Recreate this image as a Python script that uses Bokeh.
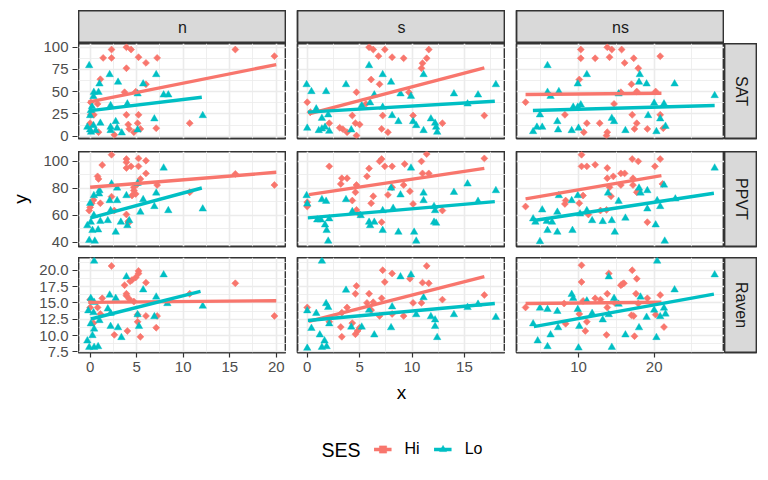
import numpy as np
from bokeh.plotting import figure
from bokeh.layouts import row, column, Spacer
from bokeh.models import (Range1d, FixedTicker, PrintfTickFormatter, Legend,
                          LegendItem, Label)
from bokeh.embed import file_html
from bokeh.resources import INLINE
from bokeh.core.properties import value

# ---------------- data ----------------
col_vars = ["n", "s", "ns"]
row_vars = ["SAT", "PPVT", "Raven"]
groups = ["Hi", "Lo"]

x_ticks = {"n": [0, 5, 10, 15, 20], "s": [0, 5, 10, 15], "ns": [10, 20]}
x_minor = {"n": [2.5, 7.5, 12.5, 17.5], "s": [2.5, 7.5, 12.5, 17.5], "ns": [5, 15, 25]}
y_ticks = {"SAT": [0, 25, 50, 75, 100], "PPVT": [40, 60, 80, 100],
           "Raven": [7.5, 10, 12.5, 15, 17.5, 20]}
y_minor = {"SAT": [12.5, 37.5, 62.5, 87.5], "PPVT": [50, 70, 90],
           "Raven": [8.75, 11.25, 13.75, 16.25, 18.75, 21.25]}
x_limits = {"n": [-1.25, 21.1], "s": [-0.93, 18.92], "ns": [1.8, 29.3]}
y_limits = {"SAT": [-2.6, 104.2], "PPVT": [37.0, 107.3], "Raven": [7.4, 21.95]}

# --- SAT vs n
SAT_n_hi_x = [2.3, 3.9, 4.4, 1.4, 2.3, 5.2, 6.0, 7.2, 3.9, 15.6, 19.8, 1.1, 6.0, 3.7, 4.9, 0.07, 0.8, 0.07, 0.4, 3.9, 5.2, 0.0, 4.1, 5.1, 4.2, 5.4, 7.1, 10.7, 0.9, 2.6, 4.7]
SAT_n_hi_y = [97.4, 100, 97.4, 88, 88, 88.8, 82.4, 88, 76.4, 97.4, 90, 64, 58.4, 49.4, 50, 38, 36.3, 24, 24, 24, 24, 14.6, 13.1, 14.6, 8.2, 8.2, 9, 14.6, 4.5, 1.5, 4.5]
SAT_n_lo_x = [-0.1, 2.1, 3.0, 7.1, 1.0, 0.9, 0.4, 0.36, 5.7, 7.9, 8.4, 5.1, 0.2, 2.2, 4.0, 0.07, 0.0, 6.9, 12.1, 1.1, 2.75, -0.3, 0.0, 0.36, 2.2, 2.2, 2.9, 3.4, 0.1, 0.6, 5.1]
SAT_n_lo_y = [79.4, 69.3, 60.7, 69.3, 58.8, 49.4, 49.4, 44.6, 58.8, 46.4, 46.4, 47.6, 33.3, 34.5, 36.3, 28.8, 23.2, 19.5, 23.2, 14.6, 16.5, 10.1, 7.1, 12, 10.1, 6.4, 9, 3.7, 4.5, 6.4, 7.1]
SAT_n_fit_hi_x = [-0.2, 20.0]
SAT_n_fit_hi_y = [38.2, 80.5]
SAT_n_fit_lo_x = [0.07, 12.0]
SAT_n_fit_lo_y = [28.8, 43.8]

# --- SAT vs s
SAT_s_hi_x = [5.9, 6.3, 7.4, 6.8, 8.1, 9.2, 11.6, 11.4, 11.0, 10.9, 6.1, 6.9, 4.7, 9.7, 0.0, 0.3, 5.6, 4.3, 7.2, 10.1, 16.9, 2.1, 4.6, 5.0, 3.1, 3.4, 3.8, 4.7, 7.1, 7.7, 12.9]
SAT_s_hi_y = [100, 97.4, 97.4, 90, 88.8, 87.6, 97.4, 87.6, 82, 76.4, 63.7, 58.4, 49.4, 49.4, 38.2, 27, 36.3, 23.2, 23.2, 23.2, 23.2, 14.6, 14.6, 13.1, 9.4, 7.9, 4.5, 0.7, 8.2, 4.5, 14.6]
SAT_s_lo_x = [-0.06, 0.4, 1.8, 3.7, 5.9, 7.2, 8.0, 11.1, 8.9, 9.9, 14.0, 16.3, 18.0, 6.4, 5.2, 6.0, 7.2, 0.86, 2.0, 1.4, 8.1, 8.7, 10.1, 10.4, 11.8, 12.2, 12.3, 12.4, 11.1, 0.0, 1.1, 1.4, 1.7, 2.1, 4.2, 15.3]
SAT_s_lo_y = [58, 50.2, 50.2, 58, 79.4, 69.3, 60.7, 69.3, 47.6, 44.9, 47.6, 46.4, 58, 46.4, 34.5, 37.5, 32.6, 30.7, 24, 20.2, 23.2, 16.5, 16.5, 12, 19.5, 14.6, 10.1, 4.5, 6.4, 9, 6.4, 8.2, 10.1, 5.6, 7.1, 36.3]
SAT_s_fit_hi_x = [0.16, 16.9]
SAT_s_fit_hi_y = [25.1, 76.8]
SAT_s_fit_lo_x = [0.06, 17.9]
SAT_s_fit_lo_y = [27.0, 39.3]

# --- SAT vs ns
SAT_ns_hi_x = [13.8, 14.4, 15.7, 10.3, 10.3, 12.2, 14.1, 17.3, 20.8, 16.1, 17.9, 10.1, 17.0, 15.6, 17.7, 20.2, 3.0, 14.7, 8.2, 17.1, 20.8, 11.1, 12.8, 17.7, 10.7, 13.8, 13.7, 17.4, 19.1, 21.2]
SAT_ns_hi_y = [100, 97.4, 97.4, 97.4, 87.6, 87.6, 88.8, 87.6, 89.9, 82.4, 76.4, 63.7, 58.4, 49.4, 50.2, 50.2, 38.2, 36.3, 24, 24, 24, 14.6, 14.6, 14.6, 4.5, 4.5, 0.7, 8.2, 8.2, 9]
SAT_ns_lo_x = [5.9, 11.1, 18.1, 9.9, 18.0, 19.0, 22.7, 5.9, 6.3, 7.4, 15.3, 28.0, 9.3, 10.3, 9.9, 20.0, 21.3, 4.9, 7.2, 14.4, 14.7, 19.2, 20.8, 4.0, 4.5, 5.2, 7.3, 9.1, 10.0, 16.2, 20.3, 21.5]
SAT_ns_lo_y = [79.4, 69.3, 69.3, 58.8, 60.7, 58.8, 58.8, 49.4, 44.9, 50.2, 47.6, 45.7, 32.6, 35.2, 32.6, 37.1, 36.3, 24, 16.5, 20.2, 16.5, 23.2, 19.5, 5.2, 10.1, 10.1, 7.1, 6.4, 9, 6.4, 5.2, 11.2]
SAT_ns_fit_hi_x = [3.0, 20.96]
SAT_ns_fit_hi_y = [46.8, 48.3]
SAT_ns_fit_lo_x = [3.97, 28.0]
SAT_ns_fit_lo_y = [28.8, 34.5]

# --- PPVT vs n
PPVT_n_hi_x = [2.3, 3.9, 3.9, 4.4, 3.9, 5.2, 6.0, 5.2, 1.3, 0.8, 0.9, 6.0, 5.4, 7.2, 15.6, 19.8, 4.7, 4.7, 4.9, 4.5, 2.3, 0.36, 0.18, 0.0, -0.1, 1.1, 2.6, 3.9, 4.1, 4.1, 10.7, 5.1]
PPVT_n_hi_y = [104.9, 101.7, 99.3, 96.3, 95.1, 102.2, 100.5, 96.3, 97.3, 88.9, 87, 91.1, 87, 82.5, 90.7, 82.5, 80.8, 78.4, 75.9, 74.7, 73.9, 71.5, 69, 66, 63.6, 69, 63.6, 60.7, 55.7, 54.3, 77.1, 83.3]
PPVT_n_lo_x = [7.9, 2.3, 2.9, 5.1, 0.4, 1.0, 0.96, 3.9, 7.1, 2.1, 2.9, 5.7, 0.0, 6.9, 8.4, 2.2, 0.4, 5.4, 12.1, -0.3, 0.07, 1.1, 1.9, 3.3, 4.2, 4.0, 0.25, 0.86, 2.75, -0.1, 0.5]
PPVT_n_lo_y = [95.1, 83.3, 80.3, 83.8, 74.7, 78.4, 75.9, 74.7, 76.6, 71, 71, 71.7, 69, 66.6, 63.6, 63.6, 60, 62.4, 64.8, 52.5, 55, 55.7, 56.2, 55, 56.2, 52.5, 48.9, 49.3, 47.6, 41.5, 41]
PPVT_n_fit_hi_x = [0.0, 20.0]
PPVT_n_fit_hi_y = [80.8, 91.9]
PPVT_n_fit_lo_x = [0.07, 12.0]
PPVT_n_fit_lo_y = [58.2, 80.3]

# --- PPVT vs s
PPVT_s_hi_x = [11.4, 7.1, 6.9, 16.9, 10.9, 9.3, 7.4, 8.1, 2.1, 5.9, 11.0, 11.6, 5.7, 3.3, 3.8, 3.2, 4.7, 9.2, 8.1, 4.6, 9.8, 6.3, 7.7, 4.3, 6.1, 0.0, 0.0, 10.1, 4.7, 5.0, 12.9, 7.1]
PPVT_s_hi_y = [105.4, 101.7, 100, 102.2, 100, 98, 96.3, 96.3, 96.3, 94.8, 91.1, 91.1, 88.9, 87.5, 87.5, 83.3, 82.5, 82.5, 80.8, 77.1, 77.9, 74.2, 75.2, 71, 69, 69.8, 66.6, 68.5, 64.1, 60.7, 63.6, 55]
PPVT_s_lo_x = [9.9, 15.3, 18.0, 14.0, 11.1, 8.9, 8.0, -0.06, 1.4, 1.8, 3.7, 11.1, 0.0, 12.1, 12.2, 8.2, 7.2, 4.3, 5.1, 16.3, 0.95, 1.3, 2.1, 1.7, 5.9, 6.4, 6.0, 12.1, 12.3, 1.85, 7.2, 8.7, 10.2, 2.0, 10.4]
PPVT_s_lo_y = [95.1, 83.3, 78.4, 77.1, 76.6, 75.2, 80.3, 74.7, 71.7, 70.5, 71.7, 71, 68.5, 66.6, 63.6, 65.3, 63.6, 62.9, 59.9, 70.5, 56.7, 56.7, 57.5, 53, 55, 55, 52.5, 55, 54.3, 48.9, 48.9, 47.6, 47.6, 41, 41]
PPVT_s_fit_hi_x = [0.16, 16.9]
PPVT_s_fit_hi_y = [75.4, 94.8]
PPVT_s_fit_lo_x = [0.06, 17.9]
PPVT_s_fit_lo_y = [58.2, 70.2]

# --- PPVT vs ns
PPVT_ns_hi_x = [10.4, 17.1, 17.9, 20.8, 10.4, 11.1, 12.2, 13.8, 20.1, 14.6, 13.8, 15.6, 16.1, 17.2, 15.6, 17.2, 21.1, 14.1, 17.7, 17.9, 10.6, 14.3, 8.3, 8.2, 10.1, 3.0, 12.9, 13.7, 11.3, 19.1]
PPVT_ns_hi_y = [104.9, 101.7, 100, 101.7, 96.3, 96.3, 97.5, 95.1, 96.3, 88.9, 87.5, 91.1, 91.1, 87.5, 82.5, 82.5, 83.3, 80.8, 77.1, 78.4, 74.7, 74.2, 71, 68.5, 69, 66.6, 63.6, 64.1, 60.7, 55]
PPVT_ns_lo_x = [28.0, 18.0, 13.9, 19.1, 18.2, 21.3, 9.9, 9.1, 7.4, 15.3, 20.4, 22.8, 5.2, 7.2, 11.1, 10.2, 19.1, 20.8, 4.0, 4.3, 5.8, 6.5, 11.8, 13.2, 14.4, 16.2, 20.2, 5.9, 7.2, 9.2, 14.8, 4.9, 21.4]
PPVT_ns_lo_y = [95.1, 80.3, 76.6, 78.4, 76.6, 82.5, 74.7, 71, 74.7, 70.5, 71, 72.2, 64.1, 62.4, 63.6, 61.1, 64.8, 66.6, 57.5, 55, 55.7, 55, 56.2, 55.5, 56.2, 58, 53, 48.9, 47.6, 48.9, 47.6, 40.7, 41]
PPVT_ns_fit_hi_x = [3.0, 20.96]
PPVT_ns_fit_hi_y = [72.2, 89.4]
PPVT_ns_fit_lo_x = [4.1, 27.9]
PPVT_ns_fit_lo_y = [56.2, 76.4]

# --- Raven vs n
Raven_n_hi_x = [2.3, 5.2, 5.2, 4.9, 4.5, 4.3, 6.0, 3.7, 15.6, 3.9, 3.9, 4.2, 1.3, 0.0, 4.7, 0.0, 0.8, 1.1, 5.1, 6.0, 7.2, 19.8, 5.1, 0.36, 7.1, 4.0, 2.6, 5.4, 10.7]
Raven_n_hi_y = [20.66, 19.9, 19.5, 18.9, 18.5, 18.3, 18.1, 17.7, 18.0, 16.4, 16.1, 15.6, 15.7, 15.5, 15.2, 14.3, 14.3, 13.3, 13.2, 13.0, 13.0, 13.0, 12.1, 11.9, 11.2, 10.7, 10.1, 9.8, 16.4]
Raven_n_lo_x = [0.43, 3.9, 7.9, 5.7, 2.1, 2.75, 7.1, 8.3, 12.1, 0.07, 0.43, -0.2, 0.36, 2.2, 1.9, 5.1, 6.9, 1.0, 0.07, 2.2, 3.0, 5.25, 0.43, 0.25, -0.3, 3.36, -0.1, 0.43, 0.86]
Raven_n_lo_y = [21.4, 19, 19.3, 17, 16.2, 15.7, 15.9, 14.9, 14.5, 15.7, 15.1, 13.8, 13.5, 13.4, 14.1, 13.2, 12.9, 12.3, 11.8, 11.4, 11.2, 11.4, 11.0, 10, 9.2, 9.7, 8.2, 8.2, 8.3]
Raven_n_fit_hi_x = [-0.2, 20.0]
Raven_n_fit_hi_y = [15.07, 15.33]
Raven_n_fit_lo_x = [0.07, 11.86]
Raven_n_fit_lo_y = [12.53, 16.75]

# --- Raven vs s
Raven_s_hi_x = [11.4, 7.2, 8.1, 9.8, 7.4, 11.0, 11.6, 4.7, 4.6, 5.9, 16.9, 7.1, 12.9, 5.7, 6.3, 10.1, 10.9, 0.0, 3.8, 3.3, 6.1, 6.9, 8.1, 9.2, 2.1, 4.3, 3.2, 5.0, 4.8, 4.6, 3.3]
Raven_s_hi_y = [20.66, 20, 19.5, 18.7, 18.2, 18.1, 18.0, 17.6, 16.4, 16.4, 16.2, 15.7, 15.5, 15, 15.1, 15, 15, 14.3, 14.3, 13.5, 13.9, 13.0, 13.3, 13.0, 12.1, 11.9, 11.3, 11.2, 10.7, 10.2, 9.8]
Raven_s_lo_x = [1.4, 9.9, 8.9, 3.7, 11.1, 1.8, 2.0, 8.1, 15.3, 16.3, 0.0, 0.86, 5.9, 10.4, 11.8, 12.2, 14.0, 18.0, 2.1, 4.2, 5.2, 0.4, 8.0, 12.2, 1.2, 6.4, 12.4, 1.65, 1.85, 1.4, 0.0]
Raven_s_lo_y = [21.4, 19.3, 19.0, 16.95, 15.8, 14.9, 14.3, 14.4, 14.3, 14.8, 13.8, 13.4, 13.9, 13.2, 12.9, 12.4, 13.2, 12.8, 11.8, 11.3, 11.3, 11.1, 11.2, 11.4, 10.1, 10.1, 9.7, 9.2, 8.3, 8.2, 8.06]
Raven_s_fit_hi_x = [0.16, 16.9]
Raven_s_fit_hi_y = [12.18, 19.03]
Raven_s_fit_lo_x = [0.06, 17.9]
Raven_s_fit_lo_y = [12.3, 14.9]

# --- Raven vs ns
Raven_ns_hi_x = [10.4, 14.0, 17.1, 10.4, 17.7, 15.6, 16.0, 15.8, 13.8, 17.6, 20.8, 12.2, 12.9, 10.6, 8.1, 14.8, 17.9, 19.1, 3.0, 13.8, 10.1, 8.3, 11.1, 17.0, 17.3, 20.2, 21.3, 10.9, 13.7, 17.4]
Raven_ns_hi_y = [20.76, 19.5, 20, 18.2, 18.7, 17.7, 18, 17.9, 16.4, 16.4, 16.2, 15.7, 15.5, 15.3, 14.9, 15, 14.9, 15.7, 14.3, 14.3, 13.3, 11.8, 12.1, 13.1, 13, 13.2, 11.3, 10.7, 10.1, 9.9]
Raven_ns_lo_x = [20.4, 28.0, 14.0, 22.7, 9.1, 9.3, 14.7, 18.2, 15.3, 11.1, 4.9, 5.9, 7.2, 9.9, 11.8, 20.0, 21.3, 21.5, 20.8, 19.0, 13.2, 14.0, 4.0, 7.3, 10.1, 18.0, 6.3, 16.2, 20.3, 4.6, 5.9, 10.0, 14.4]
Raven_ns_lo_y = [21.4, 19.3, 19, 17, 16.3, 15.7, 15.7, 15.9, 14.8, 15.3, 14.2, 14, 13.7, 14, 13.4, 13.9, 14.2, 13.3, 12.9, 12.8, 12.4, 13.2, 11.8, 11.2, 11.4, 11.2, 10.1, 10.1, 9.7, 9.2, 8.3, 8.1, 8.2]
Raven_ns_fit_hi_x = [3.0, 20.96]
Raven_ns_fit_hi_y = [14.9, 15.1]
Raven_ns_fit_lo_x = [4.1, 27.9]
Raven_ns_fit_lo_y = [11.36, 16.34]

# ---------------- assemble lookup tables ----------------
G = globals()
points = {}
fits = {}
for rv in row_vars:
    for cv in col_vars:
        key = f"{rv}_{cv}"
        points[(rv, cv)] = {
            "Hi": (G[key + "_hi_x"], G[key + "_hi_y"]),
            "Lo": (G[key + "_lo_x"], G[key + "_lo_y"]),
        }
        fits[(rv, cv)] = {
            "Hi": (G[key + "_fit_hi_x"], G[key + "_fit_hi_y"]),
            "Lo": (G[key + "_fit_lo_x"], G[key + "_fit_lo_y"]),
        }

# ---------------- styling / layout constants ----------------
colors = {"Hi": "#F8766D", "Lo": "#00BFC4"}
FONT = "Liberation Sans"
PANEL_W, PANEL_H = 208, 95
AXIS_W, GAP_W, STRIP_W, STRIP_H = 78, 11, 33, 33
TOP_PAD = 10
row_gap = [13, 11, 64]
BORDER = "#333333"
FIT_W = 3.4


def draw_marker(p, g, xs, ys):
    if g == "Hi":
        return p.scatter(xs, ys, marker="square", angle=np.pi / 4, size=4.9,
                         fill_color=colors[g], line_color=colors[g], line_width=0.6)
    return p.scatter(xs, ys, marker="triangle", size=7.5,
                     fill_color=colors[g], line_color=colors[g], line_width=0.4)


def style_axis(ax):
    ax.axis_line_color = None
    ax.major_tick_line_color = BORDER
    ax.major_tick_line_width = 1.2
    ax.major_tick_out = 5
    ax.major_tick_in = 0
    ax.minor_tick_line_color = None
    ax.major_label_text_font = FONT
    ax.major_label_text_font_size = "15px"
    ax.major_label_text_color = "#4D4D4D"
    ax.major_label_standoff = 4
    ax.axis_label_text_font = FONT
    ax.axis_label_text_font_size = "19px"
    ax.axis_label_text_font_style = "normal"
    ax.axis_label_text_color = "#000000"


y_ranges = {rv: Range1d(*y_limits[rv]) for rv in row_vars}
x_ranges = {cv: Range1d(*x_limits[cv]) for cv in col_vars}


def make_yaxis_fig(ri):
    rv = row_vars[ri]
    top = STRIP_H if ri == 0 else 0
    mb = row_gap[ri]
    p = figure(width=AXIS_W, height=top + PANEL_H + mb,
               x_range=Range1d(0, 1), y_range=y_ranges[rv],
               output_backend="svg", toolbar_location=None, title=None,
               x_axis_location=None, y_axis_location="left",
               min_border_left=AXIS_W - 1, min_border_right=0,
               min_border_top=top, min_border_bottom=mb)
    p.grid.visible = False
    p.outline_line_color = None
    p.background_fill_color = "white"
    p.border_fill_color = "white"
    ax = p.yaxis[0]
    ax.ticker = FixedTicker(ticks=y_ticks[rv])
    if rv == "Raven":
        ax.formatter = PrintfTickFormatter(format="%.1f")
    style_axis(ax)
    if ri == 1:
        ax.axis_label = "y"
        ax.axis_label_standoff = 9
    return p


def make_panel(ri, ci):
    rv, cv = row_vars[ri], col_vars[ci]
    ml = 0 if ci == 0 else GAP_W
    mb = row_gap[ri]
    p = figure(width=ml + PANEL_W, height=PANEL_H + mb,
               x_range=x_ranges[cv], y_range=y_ranges[rv],
               output_backend="svg", toolbar_location=None, title=None,
               x_axis_location="below" if ri == 2 else None,
               y_axis_location=None,
               min_border_left=ml, min_border_right=0,
               min_border_top=0, min_border_bottom=mb)
    p.background_fill_color = "white"
    p.border_fill_color = "white"
    p.outline_line_color = BORDER
    p.outline_line_width = 1.8
    for grid, tk, mn in ((p.xgrid[0], x_ticks[cv], x_minor[cv]),
                         (p.ygrid[0], y_ticks[rv], y_minor[rv])):
        grid.ticker = FixedTicker(ticks=tk, minor_ticks=mn)
        grid.grid_line_color = "#EBEBEB"
        grid.grid_line_width = 1.6
        grid.minor_grid_line_color = "#EBEBEB"
        grid.minor_grid_line_width = 0.8
    if ri == 2:
        ax = p.xaxis[0]
        ax.ticker = FixedTicker(ticks=x_ticks[cv])
        style_axis(ax)
        if ci == 1:
            ax.axis_label = "x"
            ax.axis_label_standoff = 7
    for g in groups:
        xs, ys = points[(rv, cv)][g]
        draw_marker(p, g, xs, ys)
    for g in groups:
        fx, fy = fits[(rv, cv)][g]
        p.line(fx, fy, line_color=colors[g], line_width=FIT_W)
    return p


def make_strip(label, width, height, ml, mb, vertical=False):
    s = figure(width=width, height=height, x_range=Range1d(0, 1), y_range=Range1d(0, 1),
               output_backend="svg", toolbar_location=None, title=None,
               x_axis_location=None, y_axis_location=None,
               min_border_left=ml, min_border_right=0, min_border_top=0,
               min_border_bottom=mb)
    s.grid.visible = False
    s.background_fill_color = "#D9D9D9"
    s.border_fill_color = "white"
    s.outline_line_color = BORDER
    s.outline_line_width = 1.8
    s.text(x=[0.5], y=[0.5], text=[label], angle=-np.pi / 2 if vertical else 0,
           text_align="center", text_baseline="middle",
           text_font=value(FONT), text_font_size="16px", text_color="#1A1A1A")
    return s


# left column: y axes
axis_col = column(*[make_yaxis_fig(ri) for ri in range(3)])

# right block: strips + panels
strip_row = row(*[make_strip(cv, (0 if ci == 0 else GAP_W) + PANEL_W, STRIP_H,
                             0 if ci == 0 else GAP_W, 0)
                  for ci, cv in enumerate(col_vars)])
panel_rows = [strip_row]
for ri, rv in enumerate(row_vars):
    figs = [make_panel(ri, ci) for ci in range(3)]
    figs.append(make_strip(rv, STRIP_W, PANEL_H + row_gap[ri], 0, row_gap[ri], vertical=True))
    panel_rows.append(row(*figs))
panel_block = column(*panel_rows)

# legend
LEG_W, LEG_H, LEG_ML, LEG_MT = 760, 62, 96, 4
lg = figure(width=LEG_W, height=LEG_H, x_range=Range1d(0, 1), y_range=Range1d(0, 1),
            output_backend="svg", toolbar_location=None, title=None,
            x_axis_location=None, y_axis_location=None,
            min_border_left=LEG_ML, min_border_right=0, min_border_top=LEG_MT,
            min_border_bottom=0)
lg.grid.visible = False
lg.outline_line_color = None
lg.background_fill_color = "white"
lg.border_fill_color = "white"
items = []
for g in groups:
    lr = lg.line(x=np.array([np.nan]), y=np.array([np.nan]), line_color=colors[g], line_width=FIT_W)
    mr = draw_marker(lg, g, np.array([np.nan]), np.array([np.nan]))
    items.append(LegendItem(label=g, renderers=[lr, mr]))
leg = Legend(items=items, orientation="horizontal", location="center",
             glyph_width=18, glyph_height=18, label_standoff=13, spacing=14,
             label_width=0, padding=0, margin=0, border_line_color=None,
             background_fill_alpha=0, label_text_font=FONT,
             label_text_font_size="16px", label_text_font_style="normal",
             label_text_color="#000000")
lg.add_layout(leg)
# legend title "SES" placed left of the keys (right edge at x=360 px of the page)
ses_x = (360 - LEG_ML) / (LEG_W - LEG_ML)
lg.add_layout(Label(x=ses_x, y=0.5, text="SES", text_font=FONT, text_font_size="19.5px",
                    text_font_style="normal", text_baseline="middle", text_align="right",
                    text_color="#000000"))

layout = column(Spacer(width=10, height=TOP_PAD), row(axis_col, panel_block), lg)

with open("out.html", "w") as f:
    f.write(file_html(layout, INLINE))
